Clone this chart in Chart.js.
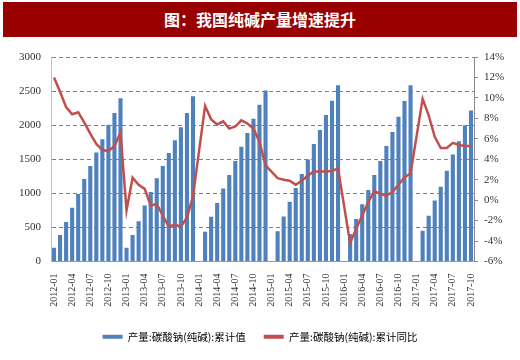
<!DOCTYPE html>
<html>
<head>
<meta charset="utf-8">
<script src="https://cdn.jsdelivr.net/npm/chart.js@4"></script>
<style>
  body { margin: 0; background: #fff; }
  #wrap { position: relative; width: 520px; height: 360px; }
  #title {
    position: absolute; left: 3px; top: 2px; width: 514px; height: 35px;
    background: #990000; color: #fff; text-align: center;
    font: bold 16px "Noto Sans CJK SC", sans-serif; line-height: 35px;
  }
  canvas { position: absolute; left: 0; top: 0; }
</style>
</head>
<body>
<div id="wrap">
  <canvas id="chart" width="520" height="360"></canvas>
  <div id="title">图：我国纯碱产量增速提升</div>
</div>
<script>
// months 2012-01 .. 2017-10
var years = ['2012', '2013', '2014', '2015', '2016', '2017']
var months = ['01', '02', '03', '04', '05', '06', '07', '08', '09', '10', '11', '12']
var labels = []
years.forEach(function (y) {
    months.forEach(function (m) {
        if (y === '2017' && m > '10') return
        labels.push(y + '-' + m)
    })
})

// 累计值 (万吨), Jan merged into Feb from 2014
var output = [
    200, 390, 580, 790, 990, 1210, 1400, 1600, 1795, 2005, 2180, 2395,
    200, 390, 590, 820, 1020, 1220, 1400, 1590, 1780, 1970, 2180, 2425,
    null, 435, 655, 860, 1070, 1270, 1475, 1685, 1885, 2095, 2300, 2510,
    null, 445, 660, 875, 1080, 1285, 1495, 1725, 1930, 2150, 2360, 2585,
    null, 405, 625, 840, 1050, 1270, 1475, 1695, 1900, 2125, 2355, 2585,
    null, 450, 670, 895, 1095, 1330, 1570, 1765, 2000, 2215
]

// 累计同比 (%)
var yoy = [
    12.0, 10.6, 9.1, 8.4, 8.6, 7.6, 6.5, 5.5, 4.9, 4.8, 5.3, 6.6,
    -1.0, 2.2, 1.5, 1.1, -0.5, -0.4, -1.5, -2.6, -2.4, -2.6, -1.7, 0.4,
    null, 9.2, 7.9, 7.4, 7.7, 7.0, 7.2, 7.8, 7.5, 7.0, 5.7, 3.4,
    null, 2.15, 2.0, 1.9, 1.5, 1.9, 2.4, 2.8, 2.8, 2.8, 2.85, 3.1,
    null, -4.2, -2.8, -1.5, -0.2, 0.9, 0.6, 0.45, 0.8, 1.5, 2.25, 2.6,
    null, 9.9, 8.3, 6.2, 5.1, 5.1, 5.6, 5.4, 5.3, 5.3
]

var blue = '#4F81BD'
var red = '#C0504D'
var serif = "'Liberation Serif', 'DejaVu Serif', serif"

new Chart(document.getElementById('chart'), {
    type: 'bar',
    data: {
        labels: labels,
        datasets: [{
            label: '产量:碳酸钠(纯碱):累计值',
            data: output,
            backgroundColor: blue,
            barPercentage: 0.68,
            categoryPercentage: 1,
            yAxisID: 'y',
            order: 1
        }, {
            type: 'line',
            label: '产量:碳酸钠(纯碱):累计同比',
            data: yoy,
            borderColor: red,
            backgroundColor: red,
            borderWidth: 2.5,
            pointRadius: 0,
            tension: 0,
            spanGaps: true,
            yAxisID: 'y1',
            order: 0
        }]
    },
    options: {
        responsive: false,
        animation: false,
        layout: { padding: { top: 57, left: 0, right: 0, bottom: 8 } },
        plugins: {
            tooltip: { enabled: false },
            legend: {
                position: 'bottom',
                labels: {
                    boxWidth: 20,
                    boxHeight: 4,
                    padding: 18,
                    color: '#333',
                    font: { family: "'Noto Sans CJK SC'", size: 10.5 },
                    generateLabels: function (chart) {
                        return chart.data.datasets.map(function (ds, i) {
                            return {
                                text: ds.label,
                                fillStyle: ds.type === 'line' ? ds.borderColor : ds.backgroundColor,
                                strokeStyle: ds.type === 'line' ? ds.borderColor : ds.backgroundColor,
                                lineWidth: 0,
                                hidden: false,
                                datasetIndex: i
                            }
                        })
                    }
                }
            }
        },
        scales: {
            x: {
                grid: { display: false, drawTicks: false },
                border: { color: '#999' },
                ticks: {
                    autoSkip: false,
                    maxRotation: 90,
                    minRotation: 90,
                    padding: 12,
                    color: '#333',
                    font: { family: serif, size: 10 },
                    callback: function (v, i) {
                        return i % 3 === 0 ? this.getLabelForValue(v) : ''
                    }
                },
                afterFit: function (s) { s.height = 52 }
            },
            y: {
                position: 'left',
                min: 0,
                max: 3000,
                grid: { color: '#808080', drawTicks: false },
                border: { color: '#a9c4e6', dash: [4, 3] },
                ticks: {
                    stepSize: 500,
                    padding: 10,
                    color: '#333',
                    font: { family: serif, size: 11 },
                    callback: function (v) { return String(v) }
                },
                afterFit: function (s) { s.width = 51 }
            },
            y1: {
                position: 'right',
                min: -6,
                max: 14,
                grid: { drawOnChartArea: false, tickLength: 4, color: '#8a8a8a' },
                border: { color: '#8a8a8a' },
                ticks: {
                    stepSize: 2,
                    padding: 6,
                    color: '#333',
                    font: { family: serif, size: 11 },
                    callback: function (v) { return v + '%' }
                },
                afterFit: function (s) { s.width = 46 }
            }
        }
    }
})
</script>
</body>
</html>
